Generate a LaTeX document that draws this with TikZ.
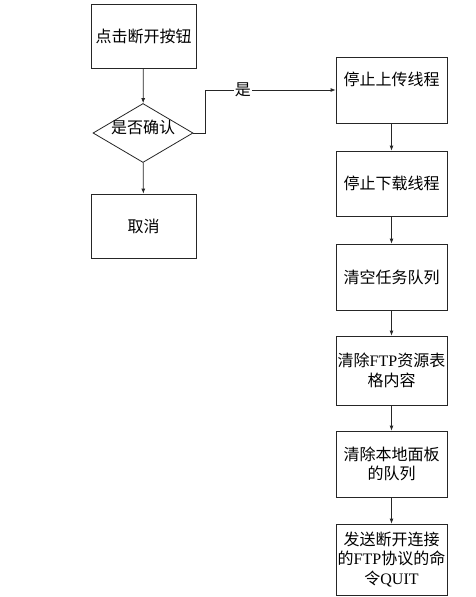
\documentclass[tikz,border=0pt]{standalone}
\usepackage{fontspec}
\setmainfont{Liberation Serif}
\newfontfamily\cjk{Noto Sans CJK SC}
\usetikzlibrary{shapes.geometric,arrows.meta}
\begin{document}
\begin{tikzpicture}[x=1pt,y=-1pt,
  every node/.style={font=\fontsize{16}{19.5}\selectfont},
  box/.style={draw=black!85, line width=0.8pt, inner sep=0pt, align=center},
  lbox/.style={box, minimum width=105pt, minimum height=64pt},
  rbox/.style={box, minimum width=111pt},
  dec/.style={draw=black!85, line width=0.8pt, shape=diamond, inner sep=0pt, minimum width=100pt, minimum height=59pt},
  conn/.style={draw=black!85, line width=0.8pt, -{Latex[length=5pt,width=4pt]}},
  lbl/.style={fill=white, inner sep=1pt}]
\useasboundingbox[fill=white] (0,0) rectangle (475,597);
% left column
\node[lbox] (A) at (143.5,36) {\cjk 点击断开按钮};
\node[dec] (D) at (143,133) {\smash{\makebox[0pt]{\cjk 是否确认}}};
\node[lbox] (C) at (143.5,226) {\cjk 取消};
% right column
\node[rbox, minimum height=66pt, text depth=22pt] (R1) at (391.5,90) {\cjk 停止上传线程};
\node[rbox, minimum height=65pt] (R2) at (391.5,183.5) {\cjk 停止下载线程};
\node[rbox, minimum height=66pt] (R3) at (391.5,277) {\cjk 清空任务队列};
\node[rbox, minimum height=69pt] (R4) at (391.5,370.5) {{\cjk 清除}FTP{\cjk 资源表}\\{\cjk 格内容}};
\node[rbox, minimum height=66pt] (R5) at (391.5,464) {{\cjk 清除本地面板}\\{\cjk 的队列}};
\node[rbox, minimum height=71pt] (R6) at (391.5,559.5) {{\cjk 发送断开连接}\\{\cjk 的}FTP{\cjk 协议的命}\\{\cjk 令}QUIT};
% connectors
\coordinate (K) at (205,133);
\draw[conn] (A) -- (D);
\draw[conn] (D) -- (C);
\draw[conn] (D.east) -- (K) |- node[lbl, pos=0.645] {\cjk 是} (R1.west);
\draw[conn] (R1) -- (R2);
\draw[conn] (R2) -- (R3);
\draw[conn] (R3) -- (R4);
\draw[conn] (R4) -- (R5);
\draw[conn] (R5) -- (R6);
\end{tikzpicture}
\end{document}
